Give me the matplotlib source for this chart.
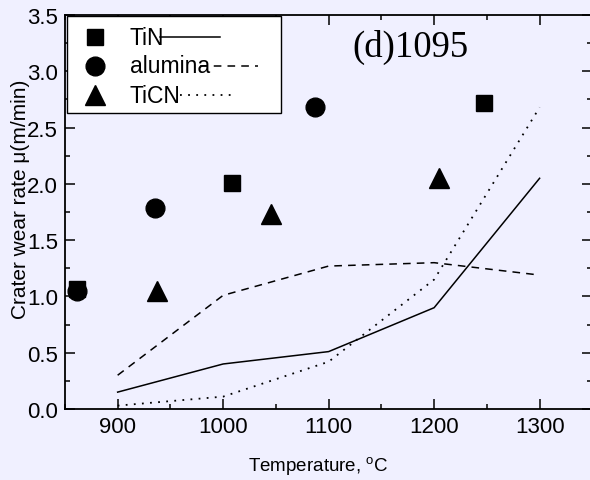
import matplotlib
matplotlib.use("Agg")
import matplotlib.pyplot as plt
from matplotlib.lines import Line2D
from matplotlib.patches import Rectangle
from matplotlib.ticker import MultipleLocator

plt.rcParams['font.family'] = ['Liberation Sans', 'DejaVu Sans']
plt.rcParams['mathtext.fontset'] = 'custom'
plt.rcParams['mathtext.rm'] = 'Liberation Sans'

# measured points (markers)
tin_x = [861, 1008, 1247]
tin_y = [1.07, 2.01, 2.72]
alumina_x = [861, 935, 1087]
alumina_y = [1.05, 1.79, 2.68]
ticn_x = [937, 1045, 1205]
ticn_y = [1.05, 1.73, 2.05]

# model curves
temp = [900, 1000, 1100, 1200, 1300]
tin_line = [0.15, 0.40, 0.51, 0.90, 2.05]
alumina_line = [0.30, 1.01, 1.27, 1.30, 1.19]
ticn_line = [0.03, 0.11, 0.42, 1.15, 2.68]

labels = ['TiN', 'alumina', 'TiCN']

bg = '#F0F0FF'
fig = plt.figure(figsize=(5.9, 4.81), dpi=100, facecolor=bg)
ax = fig.add_axes([0.110, 0.1476, 0.894, 0.819], facecolor=bg)

lw = 1.1
dash = (0, (5, 4))
dot = (0, (1, 3.5))
ax.plot(temp, tin_line, color='black', lw=lw, linestyle='-')
ax.plot(temp, alumina_line, color='black', lw=lw, linestyle=dash)
ax.plot(temp, ticn_line, color='black', lw=1.3, linestyle=dot)

ax.plot(tin_x, tin_y, 's', color='black', ms=11, clip_on=False, zorder=3)
ax.plot(alumina_x, alumina_y, 'o', color='black', ms=13.5, clip_on=False, zorder=4)
ax.plot(ticn_x, ticn_y, '^', color='black', ms=14, clip_on=False, zorder=5)

ax.set_xlim(850, 1350)
ax.set_ylim(0, 3.5)
ax.xaxis.set_major_locator(MultipleLocator(100))
ax.xaxis.set_minor_locator(MultipleLocator(50))
ax.yaxis.set_major_locator(MultipleLocator(0.5))
ax.yaxis.set_minor_locator(MultipleLocator(0.25))
ax.set_xticks([900, 1000, 1100, 1200, 1300])
ax.set_yticks([0.0, 0.5, 1.0, 1.5, 2.0, 2.5, 3.0, 3.5])
ax.set_yticklabels(['0.0', '0.5', '1.0', '1.5', '2.0', '2.5', '3.0', '3.5'])
ax.tick_params(which='both', direction='in', top=True, right=True, width=1.1, labelsize=16, pad=5)
ax.tick_params(which='major', length=7)
ax.tick_params(which='minor', length=3.5)
for s in ax.spines.values():
    s.set_linewidth(1.3)

# y label sits over the tick labels, as in the original
fig.text(21 / 590, 1 - 199 / 481, 'Crater wear rate \u03bc(m/min)', rotation=90,
         ha='center', va='center', fontsize=15)
fig.text(318 / 590, 1 - 467 / 481, 'Temperature, $^{\\rm o}$C', ha='center', va='center', fontsize=13.5)

ax.text(0.655, 0.921, '(d)1095', transform=ax.transAxes, ha='center', va='center',
        fontsize=26.5, family=['Liberation Serif', 'DejaVu Serif'])

# legend drawn by hand: marker, label, then line sample
ax.add_patch(Rectangle((0.004, 0.751), 0.4055, 0.246, transform=ax.transAxes,
                       facecolor='white', edgecolor='black', lw=1.0, zorder=6))
rows = [0.944, 0.871, 0.797]
marks = ['s', 'o', '^']
sizes = [11, 13.5, 14]
styles = ['-', dash, dot]
widths = [lw, lw, 1.3]
spans = [(0.180, 0.294), (0.256, 0.366), (0.218, 0.318)]
for lab, yy, m, ms, st, w, sp in zip(labels, rows, marks, sizes, styles, widths, spans):
    ax.add_line(Line2D([0.057], [yy], marker=m, ms=ms, color='black', transform=ax.transAxes, zorder=7))
    ax.text(0.123, yy, lab, transform=ax.transAxes, va='center', ha='left', fontsize=16.5, zorder=7)
    ax.add_line(Line2D(list(sp), [yy, yy], color='black', lw=w, linestyle=st,
                       transform=ax.transAxes, zorder=8))

fig.savefig('out.png', dpi=100, facecolor=bg)
